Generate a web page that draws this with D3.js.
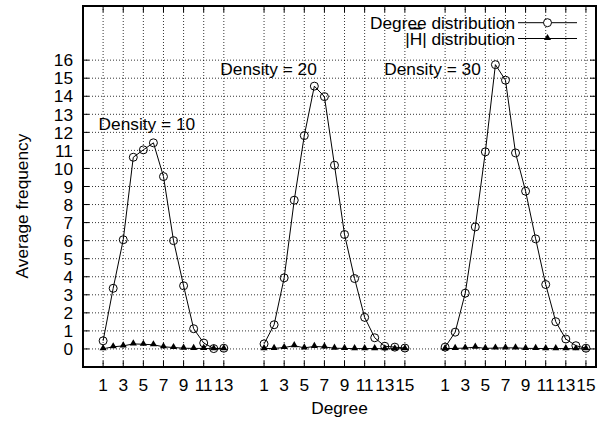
<!DOCTYPE html>
<html>
<head>
<meta charset="utf-8">
<script src="https://cdn.jsdelivr.net/npm/d3@7/dist/d3.min.js"></script>
<style>
body { margin: 0; background: #fff; }
text { font-family: "Liberation Sans", Arial, Helvetica, sans-serif; font-size: 17.3px; fill: #000; }
</style>
</head>
<body>
<div id="chart"></div>
<script>
// one group of points per density, degree 1..n inside each group
var densities = [10, 20, 30];

var degree_d10 = [0.45, 3.36, 6.05, 10.62, 11.03, 11.42, 9.55, 6.0, 3.5, 1.12, 0.33, 0.02, 0.04];
var degree_d20 = [0.28, 1.34, 3.94, 8.24, 11.82, 14.56, 13.98, 10.18, 6.34, 3.9, 1.75, 0.62, 0.15, 0.1, 0.05];
var degree_d30 = [0.1, 0.93, 3.09, 6.76, 10.92, 15.75, 14.89, 10.86, 8.74, 6.1, 3.57, 1.51, 0.55, 0.18, 0.04];

var hbar_d10 = [0.01, 0.12, 0.17, 0.28, 0.26, 0.23, 0.12, 0.08, 0.04, 0.03, 0.03, 0.01, 0.01];
var hbar_d20 = [0.02, 0.03, 0.08, 0.18, 0.06, 0.14, 0.11, 0.04, 0.03, 0.02, 0.02, 0.02, 0.01, 0.01, 0.01];
var hbar_d30 = [0.02, 0.03, 0.05, 0.1, 0.03, 0.05, 0.06, 0.06, 0.03, 0.03, 0.02, 0.02, 0.02, 0.01, 0.01];

var y_ticks = [0, 1, 2, 3, 4, 5, 6, 7, 8, 9, 10, 11, 12, 13, 14, 15, 16];
var legend_labels = ["Degree distribution", "distribution"];
var density_labels = ["Density = 10", "Density = 20", "Density = 30"];
// where each density label sits, in slot / value units
var density_label_x = [-0.45, 11.65, 27.95];
var density_label_y = [12.5, 15.5, 15.5];

var degree_groups = [degree_d10, degree_d20, degree_d30];
var hbar_groups = [hbar_d10, hbar_d20, hbar_d30];

var width = 608, height = 423;
var plot_left = 83, plot_right = 596, plot_top = 6, plot_bottom = 367;
var gap = 3;   // empty slots between groups
var tick_len = 6;

// slot index of each point along the x axis
var offset = 0;
var groups = [];
degree_groups.forEach(function(values, g) {
    var pts = values.map(function(v, i) {
        return {slot: offset + i, degree: i + 1, deg: v, hbar: hbar_groups[g][i]};
    });
    groups.push(pts);
    offset += values.length + gap;
});
var all_pts = [].concat.apply([], groups);
var odd_pts = all_pts.filter(function(d) { return d.degree % 2 == 1; });

var x = d3.scaleLinear().domain([-2, 49]).range([plot_left, plot_right]);
var y = d3.scaleLinear().domain([-1, 19]).range([plot_bottom, plot_top]);

var svg = d3.select("#chart").append("svg")
    .attr("width", width)
    .attr("height", height);

// grid
svg.append("g").selectAll("line")
    .data(y_ticks)
    .enter()
    .append("line")
    .attr("x1", plot_left).attr("x2", plot_right)
    .attr("y1", function(d) { return y(d); })
    .attr("y2", function(d) { return y(d); })
    .attr("stroke", "#000")
    .attr("stroke-width", 0.8)
    .attr("stroke-dasharray", "1,2");

svg.append("g").selectAll("line")
    .data(odd_pts)
    .enter()
    .append("line")
    .attr("x1", function(d) { return x(d.slot); })
    .attr("x2", function(d) { return x(d.slot); })
    .attr("y1", plot_top).attr("y2", plot_bottom)
    .attr("stroke", "#000")
    .attr("stroke-width", 0.8)
    .attr("stroke-dasharray", "1,2");

// ticks (inward, on all four sides)
var ticks = svg.append("g").attr("stroke", "#000").attr("stroke-width", 1);
y_ticks.forEach(function(t) {
    ticks.append("line").attr("x1", plot_left).attr("x2", plot_left + tick_len)
        .attr("y1", y(t)).attr("y2", y(t));
    ticks.append("line").attr("x1", plot_right).attr("x2", plot_right - tick_len)
        .attr("y1", y(t)).attr("y2", y(t));
});
odd_pts.forEach(function(d) {
    ticks.append("line").attr("x1", x(d.slot)).attr("x2", x(d.slot))
        .attr("y1", plot_bottom).attr("y2", plot_bottom - tick_len);
    ticks.append("line").attr("x1", x(d.slot)).attr("x2", x(d.slot))
        .attr("y1", plot_top).attr("y2", plot_top + tick_len);
});

// tick labels
svg.append("g").selectAll("text")
    .data(y_ticks)
    .enter()
    .append("text")
    .attr("x", plot_left - 10)
    .attr("y", function(d) { return y(d); })
    .attr("dy", "0.36em")
    .attr("text-anchor", "end")
    .text(function(d) { return d; });

svg.append("g").selectAll("text")
    .data(odd_pts)
    .enter()
    .append("text")
    .attr("x", function(d) { return x(d.slot); })
    .attr("y", plot_bottom + 24)
    .attr("text-anchor", "middle")
    .text(function(d) { return d.degree; });

// series
var deg_line = d3.line()
    .x(function(d) { return x(d.slot); })
    .y(function(d) { return y(d.deg); });
var hbar_line = d3.line()
    .x(function(d) { return x(d.slot); })
    .y(function(d) { return y(d.hbar); });
var tri = d3.symbol().type(d3.symbolTriangle).size(22);

groups.forEach(function(pts) {
    svg.append("path")
        .attr("d", deg_line(pts))
        .attr("fill", "none")
        .attr("stroke", "#000")
        .attr("stroke-width", 1);

    svg.append("g").selectAll("circle")
        .data(pts)
        .enter()
        .append("circle")
        .attr("cx", function(d) { return x(d.slot); })
        .attr("cy", function(d) { return y(d.deg); })
        .attr("r", 4)
        .attr("fill", "none")
        .attr("stroke", "#000")
        .attr("stroke-width", 1);

    svg.append("path")
        .attr("d", hbar_line(pts))
        .attr("fill", "none")
        .attr("stroke", "#000")
        .attr("stroke-width", 1);

    svg.append("g").selectAll("path")
        .data(pts)
        .enter()
        .append("path")
        .attr("d", tri)
        .attr("transform", function(d) {
            return "translate(" + x(d.slot) + "," + (y(d.hbar) - 0.5) + ")";
        })
        .attr("fill", "#000");
});

// density labels
svg.append("g").selectAll("text")
    .data(density_labels)
    .enter()
    .append("text")
    .attr("x", function(d, i) { return x(density_label_x[i]); })
    .attr("y", function(d, i) { return y(density_label_y[i]); })
    .attr("dy", "0.36em")
    .text(function(d) { return d; });

// legend
var key_x = 515, key_y = [22.7, 38.5];
svg.append("text")
    .attr("x", key_x).attr("y", key_y[0])
    .attr("dy", "0.36em")
    .attr("text-anchor", "end")
    .text(legend_labels[0]);

var t2 = svg.append("text")
    .attr("x", key_x).attr("y", key_y[1])
    .attr("dy", "0.36em")
    .attr("text-anchor", "end");
t2.append("tspan").text("|");
t2.append("tspan").style("text-decoration", "overline").text("H");
t2.append("tspan").text("| " + legend_labels[1]);

key_y.forEach(function(ky) {
    svg.append("line")
        .attr("x1", 518).attr("x2", 577)
        .attr("y1", ky).attr("y2", ky)
        .attr("stroke", "#000").attr("stroke-width", 1);
});
svg.append("circle")
    .attr("cx", 547.5).attr("cy", key_y[0]).attr("r", 4)
    .attr("fill", "#fff").attr("stroke", "#000");
svg.append("path")
    .attr("d", tri)
    .attr("transform", "translate(547.5," + (key_y[1] - 0.5) + ")")
    .attr("fill", "#000");

// border
svg.append("rect")
    .attr("x", plot_left).attr("y", plot_top)
    .attr("width", plot_right - plot_left).attr("height", plot_bottom - plot_top)
    .attr("fill", "none")
    .attr("stroke", "#000")
    .attr("stroke-width", 2);

// axis titles
svg.append("text")
    .attr("x", (plot_left + plot_right) / 2)
    .attr("y", 414)
    .attr("text-anchor", "middle")
    .text("Degree");

svg.append("text")
    .attr("transform", "translate(28,206) rotate(-90)")
    .attr("text-anchor", "middle")
    .text("Average frequency");
</script>
</body>
</html>
